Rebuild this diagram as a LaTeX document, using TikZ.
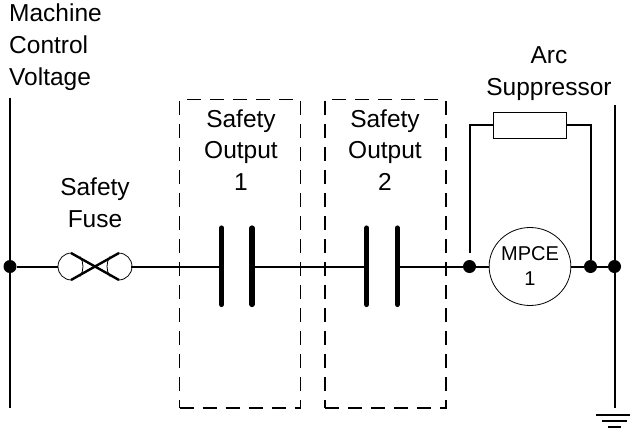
\documentclass[tikz,border=0pt]{standalone}
\usepackage{fontspec}
\usetikzlibrary{shapes.geometric}
\setmainfont{Liberation Sans}
\tikzset{
  wire/.style={line width=2pt},
  thin outline/.style={line width=0.8pt},
  dot/.style={circle,fill=black,inner sep=0pt,minimum size=13pt},
  plate/.style={line width=5.2pt,line cap=round},
  safebox/.style={draw,line width=1.5pt,dash pattern=on 14pt off 9pt,minimum width=121pt,minimum height=308.5pt,inner sep=0pt},
  label/.style={align=center,font=\fontsize{24.5}{31.7}\selectfont,inner sep=0pt},
  fusebar/.style={line width=2.4pt}
}
\begin{document}
\begin{tikzpicture}[x=1pt,y=-1pt]
\useasboundingbox (0,0) rectangle (630,429);
\fill[white] (0,0) rectangle (630,429);
% labels
\node[label,align=left,anchor=west] (mcv) at (9,47) {Machine\\Control\\Voltage};
\node[label] (fuselabel) at (95,203) {Safety\\Fuse};
\node[label] (arclabel) at (549,73.5) {Arc\\Suppressor};
\node[label] (so1label) at (241,150) {Safety\\Output\\1};
\node[label] (so2label) at (385,150) {Safety\\Output\\2};
% rails
\coordinate (ltop) at (10,98);
\coordinate (lbot) at (10,408);
\coordinate (rtop) at (614.5,105);
\coordinate (rbot) at (614.5,408);
\node[dot] (j0) at (10,266.5) {};
\node[dot] (j1) at (469.5,266.5) {};
\node[dot] (j2) at (590.5,266.5) {};
\node[dot] (j3) at (614.5,266.5) {};
\draw[wire] (ltop) -- (lbot);
\draw[wire] (rtop) -- (rbot);
% fuse
\coordinate (fl) at (58,266.5);
\coordinate (fr) at (131,266.5);
\draw[thin outline] (71.5,253) arc[start angle=-90,end angle=-270,radius=13.5];
\draw[thin outline] (118.5,253) arc[start angle=-90,end angle=90,radius=13.5];
\draw[thin outline] (80,256.5) .. controls (84,262) and (84,271) .. (80,276.5);
\draw[thin outline] (110,256.5) .. controls (106,262) and (106,271) .. (110,276.5);
\draw[fusebar] (71,253) -- (119,280);
\draw[fusebar] (71,280) -- (119,253);
% contacts
\coordinate (c1a) at (221.7,266.5);
\coordinate (c1b) at (252,266.5);
\coordinate (c2a) at (366.7,266.5);
\coordinate (c2b) at (397.3,266.5);
\draw[plate] (221.7,228) -- (221.7,304.5);
\draw[plate] (252,228) -- (252,304.5);
\draw[plate] (366.7,228) -- (366.7,304.5);
\draw[plate] (397.3,228) -- (397.3,304.5);
% motor and suppressor
\node[draw,thin outline,ellipse,minimum width=73pt,minimum height=78pt,inner sep=0pt,align=center,font=\fontsize{20}{25}\selectfont] (mpce) at (530,266.5) {MPCE\\1};
\node[draw,thin outline,minimum width=73pt,minimum height=26pt,inner sep=0pt] (arc) at (530,125) {};
% wires
\draw[wire] (j0) -- (fl);
\draw[wire] (fr) -- (c1a);
\draw[wire] (c1b) -- (c2a);
\draw[wire] (c2b) -- (j1);
\draw[wire] (j1) -- (mpce.west);
\draw[wire] (mpce.east) -- (j2);
\draw[wire] (j2) -- (j3);
\draw[wire] (arc.west) -- (469.5,125) -- ++(0,128);
\draw[wire] (arc.east) -- (590.5,125) -- (j2);
% boxes
\node[safebox] (so1) at (240.2,253.7) {};
\node[safebox] (so2) at (385.3,253.7) {};
% ground
\draw[wire] (596,414.7) -- (630,414.7);
\draw[wire] (602,421) -- (627,421);
\draw[wire] (608,427) -- (621,427);
\end{tikzpicture}
\end{document}
